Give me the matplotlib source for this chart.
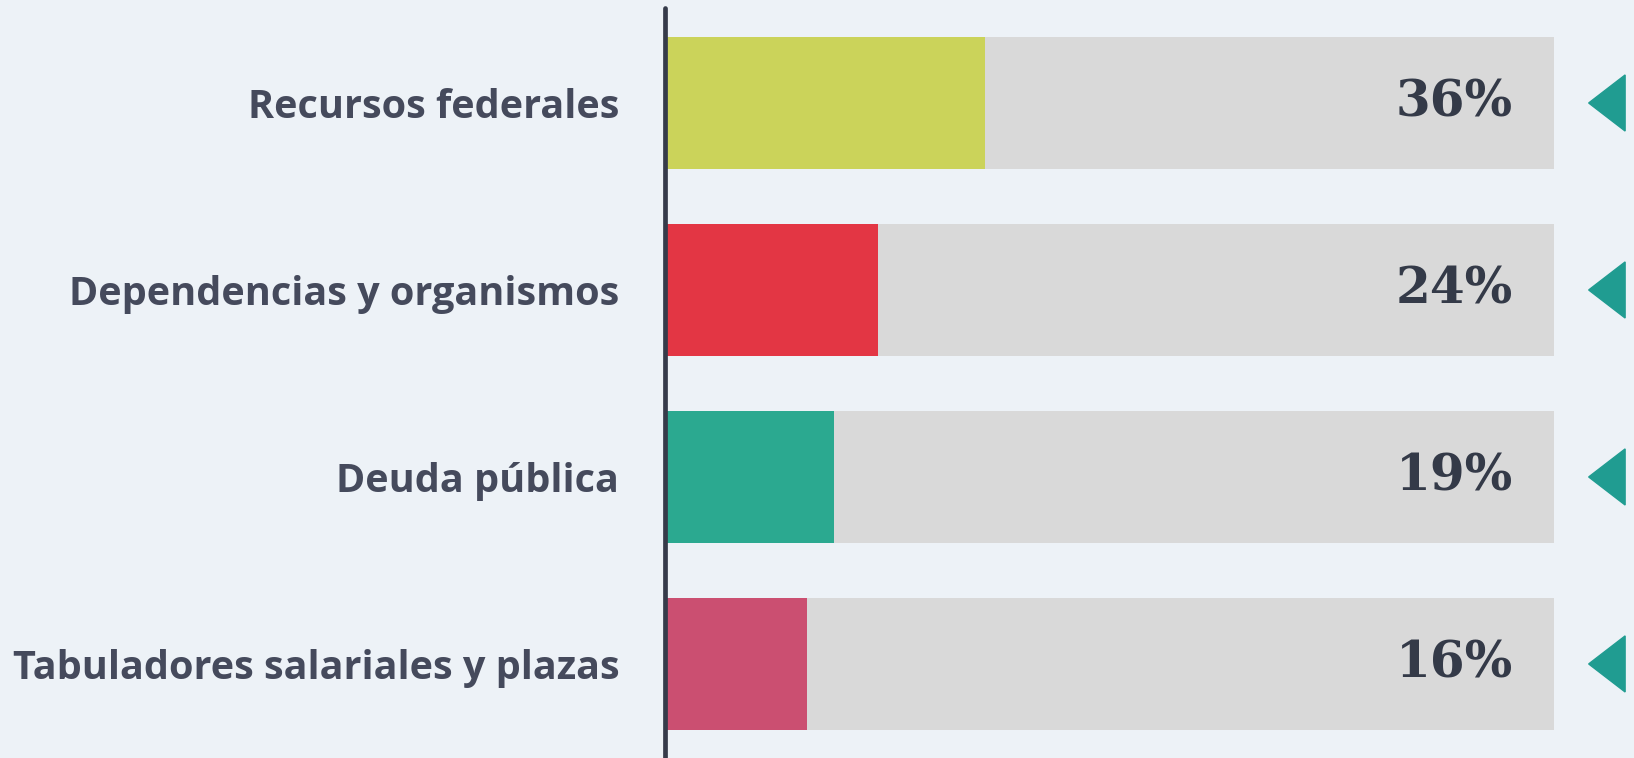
import matplotlib
matplotlib.use("Agg")
import matplotlib.pyplot as plt
from matplotlib.patches import Polygon

categories = ["Recursos federales", "Dependencias y organismos", "Deuda pública",
              "Tabuladores salariales y plazas"]
values = [36, 24, 19, 16]
labels = ["36%", "24%", "19%", "16%"]
colors = ["#cbd35a", "#e33644", "#2ba990", "#cb4f71"]

W, H = 1634, 758
bg = "#edf2f7"
fig = plt.figure(figsize=(W / 100, H / 100), dpi=100, facecolor=bg)
ax = fig.add_axes([665 / W, 0, (1554 - 665) / W, 750 / H])
ax.set_facecolor(bg)

y = list(range(len(categories)))
ax.barh(y, [100] * len(y), height=0.71, color="#d9d9d9", left=0, zorder=1)
ax.barh(y, values, height=0.71, color=colors, left=0, zorder=2)
ax.set_xlim(0, 100)
ax.set_ylim(3.503, -0.508)

for s in ["top", "right", "bottom"]:
    ax.spines[s].set_visible(False)
ax.spines["left"].set_linewidth(3.4)
ax.spines["left"].set_color("#363b4a")
ax.spines["left"].set_capstyle("round")
ax.spines["left"].set_zorder(5)
ax.set_xticks([])
ax.set_yticks(y)
ax.set_yticklabels(categories, fontfamily="Open Sans", fontweight="bold",
                   fontsize=28.5, color="#454a5c")
ax.tick_params(axis="y", length=0, pad=33)

for yi, lab in zip(y, labels):
    ax.text(95.4, yi, lab, ha="right", va="center", fontsize=36,
            fontfamily="DejaVu Serif", fontweight="bold", color="#343a48", zorder=3)
    tri = Polygon([(103.9, yi), (108.0, yi - 0.15), (108.0, yi + 0.15)],
                  closed=True, color="#209c91", clip_on=False, zorder=3)
    ax.add_patch(tri)

fig.savefig("out.png", dpi=100, facecolor=bg)
